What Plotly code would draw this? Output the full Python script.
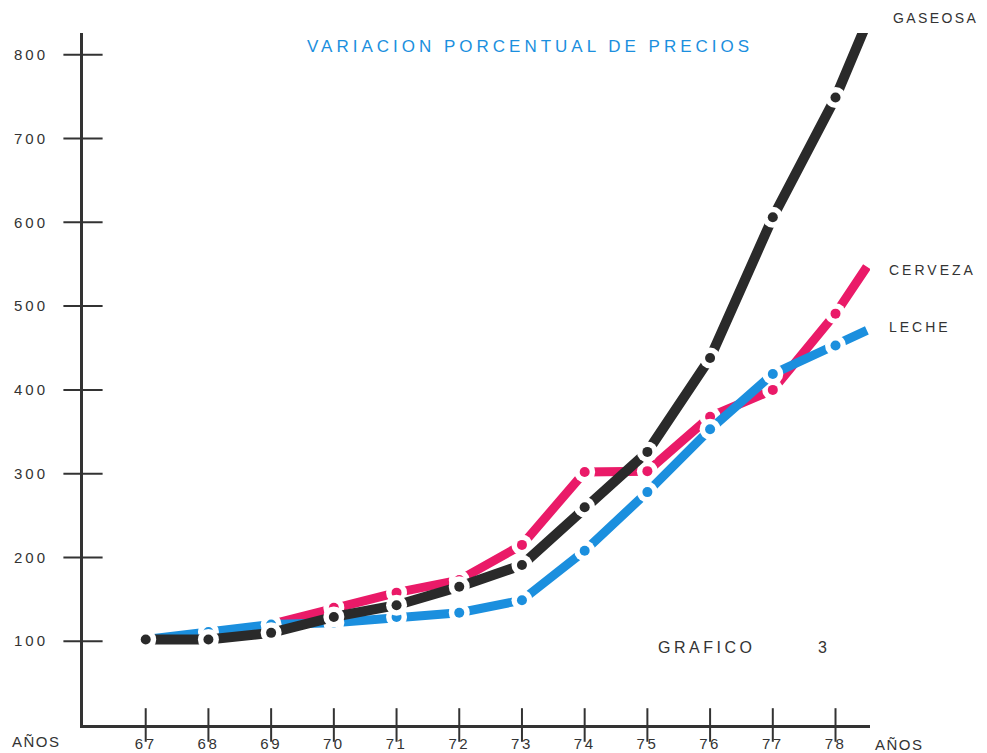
import plotly.graph_objects as go

# ---- data ----
years = [67, 68, 69, 70, 71, 72, 73, 74, 75, 76, 77, 78]
gaseosa = [102, 102, 110, 129, 143, 165, 191, 260, 326, 438, 606, 749]
cerveza = [102, 103, 120, 140, 158, 173, 215, 302, 303, 368, 400, 491]
leche = [102, 111, 120, 122, 129, 134, 149, 208, 278, 353, 419, 453]
# lines continue a little past the last year
end_year = 78.5
gaseosa_end = 838
cerveza_end = 547
leche_end = 471

y_ticks = [100, 200, 300, 400, 500, 600, 700, 800]
x_ticks = years

BLACK = "#2a2a2a"
PINK = "#ea1a68"
BLUE = "#1b8fde"
TXT = "#333333"
FONT = "Liberation Sans"


def spaced(s, sp):
    return '<span style="letter-spacing:%.1fpx">%s</span>' % (sp, s)


fig = go.Figure()

series = [
    ("CERVEZA", cerveza, cerveza_end, PINK, 9),
    ("LECHE", leche, leche_end, BLUE, 9),
    ("GASEOSA", gaseosa, gaseosa_end, BLACK, 10),
]

for name, vals, endv, col, lw in series:
    fig.add_trace(go.Scatter(
        x=years + [end_year], y=vals + [endv], mode="lines",
        line=dict(color=col, width=lw), name=name, showlegend=False,
        cliponaxis=False, hoverinfo="skip"))
    fig.add_trace(go.Scatter(
        x=years, y=vals, mode="markers",
        marker=dict(color="white", size=21, line=dict(width=0)),
        showlegend=False, cliponaxis=False, hoverinfo="skip"))
    fig.add_trace(go.Scatter(
        x=years, y=vals, mode="markers",
        marker=dict(color=col, size=10, line=dict(width=0)),
        name=name, showlegend=False, cliponaxis=False))

# tick marks crossing the axes
fig.add_trace(go.Scatter(
    x=[66] * len(y_ticks), y=y_ticks, mode="markers",
    marker=dict(symbol="line-ew", size=28, line=dict(color=TXT, width=2)),
    showlegend=False, cliponaxis=False, hoverinfo="skip"))
fig.add_trace(go.Scatter(
    x=x_ticks, y=[0] * len(x_ticks), mode="markers",
    marker=dict(symbol="line-ns", size=24, line=dict(color=TXT, width=2)),
    showlegend=False, cliponaxis=False, hoverinfo="skip"))

# page is offset by the 8px body margin
OFF = 8
PW, PH = 987, 753
W, H = PW - OFF, PH - OFF
# plot area in page pixels
L, R, T, B = 83, 870, 33, 725


def px(xp):
    return (xp - L) / (R - L)


def py(yp):
    return (B - yp) / (B - T)


ann = []
ann.append(dict(text=spaced("VARIACION PORCENTUAL DE PRECIOS", 4.0), x=px(530), y=py(47),
                xanchor="center", yanchor="middle",
                font=dict(family=FONT, size=17, color=BLUE)))
ann.append(dict(text=spaced("GASEOSA", 2.4), x=px(891), y=py(18), xanchor="left", yanchor="middle",
                font=dict(family=FONT, size=14, color=TXT)))
ann.append(dict(text=spaced("CERVEZA", 3.0), x=px(887), y=py(270), xanchor="left", yanchor="middle",
                font=dict(family=FONT, size=14, color=TXT)))
ann.append(dict(text=spaced("LECHE", 3.0), x=px(887), y=py(327), xanchor="left", yanchor="middle",
                font=dict(family=FONT, size=14, color=TXT)))
ann.append(dict(text=spaced("GRAFICO", 3.5), x=px(656), y=py(647), xanchor="left", yanchor="middle",
                font=dict(family=FONT, size=16, color=TXT)))
ann.append(dict(text="3", x=px(822), y=py(647), xanchor="center", yanchor="middle",
                font=dict(family=FONT, size=16, color=TXT)))
ann.append(dict(text=spaced("AÑOS", 1.5), x=px(10), y=py(741), xanchor="left", yanchor="middle",
                font=dict(family=FONT, size=15, color=TXT)))
ann.append(dict(text=spaced("AÑOS", 1.5), x=px(873), y=py(744), xanchor="left", yanchor="middle",
                font=dict(family=FONT, size=15, color=TXT)))
for a in ann:
    a.update(xref="paper", yref="paper", showarrow=False)

fig.update_layout(
    width=W, height=H,
    margin=dict(l=L - OFF, r=PW - R, t=T - OFF, b=PH - B, pad=0),
    paper_bgcolor="white", plot_bgcolor="white",
    annotations=ann,
    xaxis=dict(range=[66, 78.55], tickvals=x_ticks,
               ticktext=[spaced(str(v), 2.5) for v in x_ticks],
               showgrid=False, zeroline=False, showline=True, linecolor=TXT, linewidth=3,
               ticks="", ticklabelstandoff=3, automargin=False,
               tickfont=dict(family=FONT, size=15, color=TXT)),
    yaxis=dict(range=[0, 826], tickvals=y_ticks,
               ticktext=[spaced(str(v), 3.0) for v in y_ticks],
               showgrid=False, zeroline=False, showline=True, linecolor=TXT, linewidth=3,
               ticks="", ticklabelstandoff=29, automargin=False,
               tickfont=dict(family=FONT, size=15, color=TXT)),
)

fig.write_html("out.html")
